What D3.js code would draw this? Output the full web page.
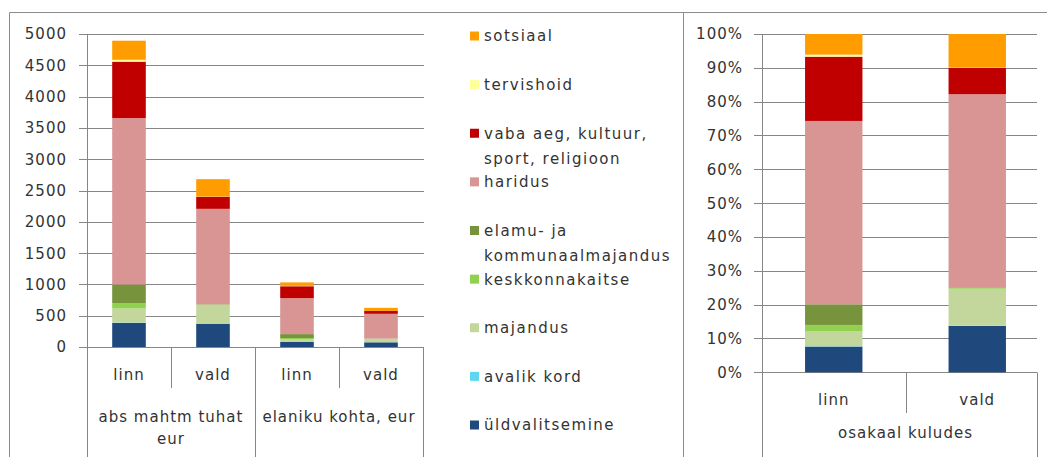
<!DOCTYPE html>
<html><head><meta charset="utf-8">
<script src="https://cdn.jsdelivr.net/npm/d3@7/dist/d3.min.js"></script>
<style>
body{margin:0;background:#fff}
svg{display:block}
text{font-family:"DejaVu Sans",Verdana,sans-serif;fill:#333;font-size:15px;letter-spacing:1px}
text.leg{letter-spacing:1.5px}
</style>
</head><body>
<svg id="c" width="1047" height="457"></svg>
<script>
// Series, bottom of the stack to top
const seriesNames = ["üldvalitsemine","avalik kord","majandus","keskkonnakaitse","elamu- ja kommunaalmajandus","haridus","vaba aeg, kultuur, sport, religioon","tervishoid","sotsiaal"];
const seriesColors = ["#1F497D","#5FD7F0","#C3D69B","#92D050","#77933C","#D99594","#C00000","#FFFF99","#FF9D00"];
const legendLabels = [["sotsiaal"],["tervishoid"],["vaba aeg, kultuur,","sport, religioon"],["haridus"],["elamu- ja","kommunaalmajandus"],["keskkonnakaitse"],["majandus"],["avalik kord"],["üldvalitsemine"]];

// Left chart: categories (abs linn, abs vald, per-capita linn, per-capita vald)
const leftCategories = ["linn","vald","linn","vald"];
const leftGroups = [["abs mahtm tuhat","eur"],["elaniku kohta, eur"]];
const leftTicks = [0,500,1000,1500,2000,2500,3000,3500,4000,4500,5000];
const uldvalitsemine = [385, 372, 80, 75];
const avalikKord     = [5, 2, 1, 0];
const majandus       = [225, 298, 45, 55];
const keskkonnakaitse= [85, 5, 17, 2];
const elamu          = [298, 5, 63, 3];
const haridus        = [2660, 1525, 575, 395];
const vabaAeg        = [900, 192, 190, 45];
const tervishoid     = [30, 3, 6, 1];
const sotsiaal       = [305, 279, 55, 49];
const leftSeries = [uldvalitsemine, avalikKord, majandus, keskkonnakaitse, elamu, haridus, vabaAeg, tervishoid, sotsiaal];

// Right chart: share of expenditures, % (series order as above)
const rightCategories = ["linn","vald"];
const rightGroup = "osakaal kuludes";
const rightTicks = [0,10,20,30,40,50,60,70,80,90,100];
const shareLinn = [7.6, 0.1, 4.5, 1.8, 6.1, 54.2, 19.0, 0.6, 6.1];
const shareVald = [13.7, 0.1, 10.9, 0.2, 0.2, 57.1, 7.8, 0.1, 9.9];

const svg = d3.select("#c");
const grid = "#868686";
const px = v => Math.round(v) + 0.5;

// Frames
svg.append("path").attr("d", `M${px(9)},457V${px(12)}H1047M${px(683)},${px(12)}V457`)
  .attr("fill","none").attr("stroke","#8c8c8c");

function chart(opt){
  const g = svg.append("g");
  const x = d3.scaleBand().domain(d3.range(opt.cats.length)).range([opt.x0, opt.bandX1]).paddingInner(0.6).paddingOuter(0.3);
  const y = d3.scaleLinear().domain([0, opt.max]).range([opt.y0, opt.y1]);
  // gridlines + ticks
  g.selectAll("line.grid").data(opt.ticks).join("line")
    .attr("x1", opt.x0 - 8).attr("x2", opt.x1)
    .attr("y1", d => px(y(d))).attr("y2", d => px(y(d)))
    .attr("stroke", grid);
  g.selectAll("text.tick").data(opt.ticks).join("text")
    .attr("x", opt.labelX).attr("y", d => y(d)).attr("dy","0.36em")
    .attr("text-anchor","end").text(opt.fmt);
  // bars
  const rows = opt.cats.map((c,i) => { const r = {}; opt.values(i).forEach((v,k)=> r[k]=v); return r; });
  const stack = d3.stack().keys(d3.range(seriesNames.length))(rows);
  g.selectAll("g.s").data(stack).join("g").attr("fill", (d,k) => seriesColors[k])
    .selectAll("rect").data(d => d).join("rect")
    .attr("x", (d,i) => x(i)).attr("width", x.bandwidth())
    .attr("y", d => y(d[1])).attr("height", d => Math.max(0, y(d[0]) - y(d[1])));
  // axes lines
  const step = x.step();
  const bounds = d3.range(opt.cats.length + 1).map(i => Math.min(opt.x1, opt.x0 + i*step));
  g.selectAll("line.div").data(bounds).join("line")
    .attr("x1", d => px(d)).attr("x2", d => px(d))
    .attr("y1", (d,i) => i === 0 ? px(opt.y1) : px(opt.y0))
    .attr("y2", (d,i) => opt.groupEdges.includes(i) ? 457 : opt.innerBottom)
    .attr("stroke", grid);
  // category labels
  g.selectAll("text.cat").data(opt.cats).join("text")
    .attr("x", (d,i) => x(i) + x.bandwidth()/2).attr("y", opt.catY).attr("dy","0.36em")
    .attr("text-anchor","middle").text(d => d);
  // group labels
  opt.groups.forEach((lines, gi) => {
    const gx = opt.x0 + (gi + 0.5) * (opt.bandX1 - opt.x0) / opt.groups.length;
    lines.forEach((t, li) => g.append("text").attr("x", gx).attr("y", opt.groupY + li*22).attr("dy","0.36em")
      .attr("text-anchor","middle").text(t));
  });
}

chart({
  cats: leftCategories, x0: 87, x1: 424, bandX1: 423, y0: 347, y1: 34, max: 5000, ticks: leftTicks,
  labelX: 67, fmt: d => d, values: i => leftSeries.map(s => s[i]),
  groupEdges: [0,2,4], innerBottom: 388, catY: 375, groups: leftGroups, groupY: 417
});
chart({
  cats: rightCategories, x0: 762, x1: 1037, bandX1: 1049, y0: 372.3, y1: 34, max: 100, ticks: rightTicks,
  labelX: 743, fmt: d => d + "%", values: i => (i === 0 ? shareLinn : shareVald),
  groupEdges: [0,2], innerBottom: 413, catY: 400, groups: [[rightGroup]], groupY: 433
});

// Legend
const legendRow = d3.scaleLinear().domain([0, 8]).range([36, 425]);
const lg = svg.append("g");
legendLabels.forEach((lines, j) => {
  const k = seriesNames.length - 1 - j;
  const yy = legendRow(j);
  lg.append("rect").attr("x", 470).attr("y", yy - 4.5).attr("width", 9).attr("height", 9).attr("fill", seriesColors[k]);
  lines.forEach((t, li) => lg.append("text").attr("class","leg").attr("x", 484).attr("y", yy + li*25).attr("dy","0.36em").text(t));
});
</script>
</body></html>
